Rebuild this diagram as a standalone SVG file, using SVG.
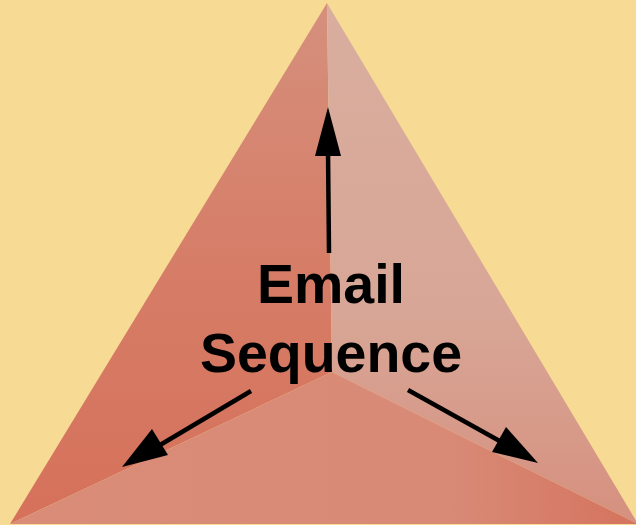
<svg xmlns="http://www.w3.org/2000/svg" width="636" height="525" viewBox="0 0 636 525">
<defs>
<style>
.lbl{font-family:"Liberation Sans",Arial,sans-serif;font-weight:bold;font-size:55.5px;fill:#000;text-anchor:middle}
.shaft{stroke:#000;stroke-width:4.5;fill:none}
</style>
<linearGradient id="gl" x1="0" y1="0" x2="0" y2="1">
<stop offset="0" stop-color="#D5907D"/>
<stop offset="0.5" stop-color="#D67D67"/>
<stop offset="1" stop-color="#D6715B"/>
</linearGradient>
<linearGradient id="gr" x1="0" y1="0" x2="0" y2="1">
<stop offset="0" stop-color="#D9AE9F"/>
<stop offset="0.6" stop-color="#D8A696"/>
<stop offset="1" stop-color="#D6907F"/>
</linearGradient>
<linearGradient id="gb" x1="0" y1="0" x2="1" y2="0">
<stop offset="0" stop-color="#D98C78"/>
<stop offset="0.7" stop-color="#D88A76"/>
<stop offset="1" stop-color="#D5735E"/>
</linearGradient>
</defs>
<rect width="636" height="525" fill="#F7DA94"/>
<g id="pyramid">
<polygon points="327,3 332,372 10,524" fill="url(#gl)"/>
<polygon points="327,3 638,524 332,372" fill="url(#gr)"/>
<polygon points="10,524 332,372 638,524" fill="url(#gb)"/>
</g>
<g id="connectors">
<line class="shaft" x1="329" y1="253" x2="328" y2="150"/>
<polygon points="328,107 341,156 315,156" fill="#000"/>
<line class="shaft" x1="251" y1="391" x2="155" y2="448"/>
<polygon points="122,467 152,429 168,455" fill="#000"/>
<line class="shaft" x1="408" y1="390" x2="505" y2="444"/>
<polygon points="538,463 492,452 506,427" fill="#000"/>
</g>
<g id="label">
<text class="lbl" x="331" y="303">Email</text>
<text class="lbl" x="331" y="372">Sequence</text>
</g>
</svg>
